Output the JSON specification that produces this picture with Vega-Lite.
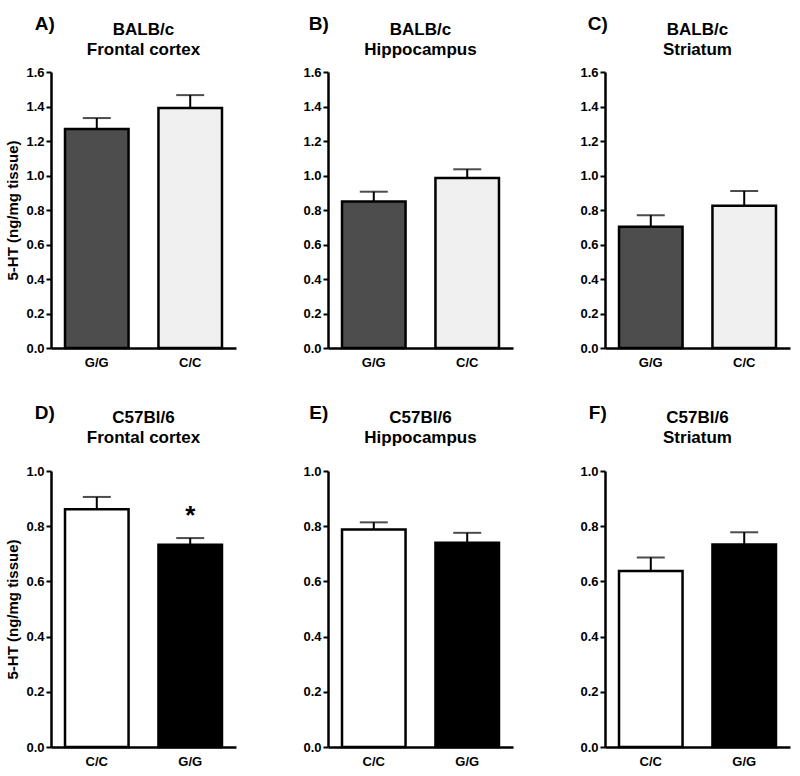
{
  "$schema": "https://vega.github.io/schema/vega-lite/v6.json",
  "background": "white",
  "padding": {"left": 5, "top": 15, "right": 4, "bottom": 2},
  "config": {
    "font": "Liberation Sans",
    "view": {"stroke": null},
    "axis": {
      "domainColor": "black", "domainWidth": 2.5,
      "tickColor": "black", "tickWidth": 2, "tickSize": 5,
      "labelFont": "Liberation Sans", "labelFontWeight": "bold", "labelFontSize": 13, "labelColor": "black", "labelOverlap": false, "labelPadding": 2,
      "titleFont": "Liberation Sans", "titleFontWeight": "bold", "titleFontSize": 15, "titleColor": "black",
      "grid": false
    },
    "axisX": {"ticks": false, "labelAngle": 0, "labelPadding": 8},
    "title": {"font": "Liberation Sans", "fontSize": 17, "fontWeight": "bold", "color": "black", "lineHeight": 20, "anchor": "middle", "frame": "group"},
    "text": {"font": "Liberation Sans", "fontWeight": "bold", "color": "black"}
  },
  "datasets": {
    "bars": [
      {"panel": "A", "geno": "G/G", "mean": 1.27, "upper": 1.333, "kind": "hatched"},
      {"panel": "A", "geno": "C/C", "mean": 1.392, "upper": 1.466, "kind": "dotted"},
      {"panel": "B", "geno": "G/G", "mean": 0.849, "upper": 0.906, "kind": "hatched"},
      {"panel": "B", "geno": "C/C", "mean": 0.986, "upper": 1.036, "kind": "dotted"},
      {"panel": "C", "geno": "G/G", "mean": 0.703, "upper": 0.77, "kind": "hatched"},
      {"panel": "C", "geno": "C/C", "mean": 0.825, "upper": 0.91, "kind": "dotted"},
      {"panel": "D", "geno": "C/C", "mean": 0.861, "upper": 0.906, "kind": "white"},
      {"panel": "D", "geno": "G/G", "mean": 0.733, "upper": 0.757, "kind": "black", "sig": "*"},
      {"panel": "E", "geno": "C/C", "mean": 0.788, "upper": 0.814, "kind": "white"},
      {"panel": "E", "geno": "G/G", "mean": 0.74, "upper": 0.776, "kind": "black"},
      {"panel": "F", "geno": "C/C", "mean": 0.638, "upper": 0.687, "kind": "white"},
      {"panel": "F", "geno": "G/G", "mean": 0.734, "upper": 0.778, "kind": "black"}
    ],
    "letters": [
      {"panel": "A", "letter": "A)"},
      {"panel": "B", "letter": "B)"},
      {"panel": "C", "letter": "C)"},
      {"panel": "D", "letter": "D)"},
      {"panel": "E", "letter": "E)"},
      {"panel": "F", "letter": "F)"}
    ]
  },
  "spacing": 35,
  "vconcat": [
    {
      "spacing": 66,
      "hconcat": [
        {
          "width": 185, "height": 276,
          "title": {"text": ["BALB/c", "Frontal cortex"], "offset": -44},
          "encoding": {
            "x": {"field": "geno", "type": "nominal", "sort": ["G/G", "C/C"], "title": null, "scale": {"paddingInner": 0.32, "paddingOuter": 0.15}}
          },
          "layer": [
            {"data": {"name": "bars"}, "transform": [{"filter": "datum.panel === 'A'"}],
             "mark": {"type": "bar", "stroke": "black", "strokeWidth": 2.5},
             "encoding": {
               "y": {"field": "mean", "type": "quantitative", "scale": {"domain": [0, 1.6]}, "axis": {"values": [0, 0.2, 0.4, 0.6, 0.8, 1.0, 1.2, 1.4, 1.6], "tickCount": 9, "labelOverlap": false, "format": ".1f", "title": "5-HT (ng/mg tissue)", "titlePadding": 5}},
               "fill": {"field": "kind", "type": "nominal", "scale": {"domain": ["hatched", "dotted", "white", "black"], "range": ["#4d4d4d", "#f0f0f0", "#ffffff", "#000000"]}, "legend": null}
             }},
            {"data": {"name": "bars"}, "transform": [{"filter": "datum.panel === 'A'"}],
             "mark": {"type": "rule", "strokeWidth": 2, "color": "black"},
             "encoding": {"y": {"field": "mean", "type": "quantitative", "axis": {"values": [0, 0.2, 0.4, 0.6, 0.8, 1.0, 1.2, 1.4, 1.6], "tickCount": 9, "labelOverlap": false, "format": ".1f", "title": "5-HT (ng/mg tissue)", "titlePadding": 5}}, "y2": {"field": "upper"}}},
            {"data": {"name": "bars"}, "transform": [{"filter": "datum.panel === 'A'"}],
             "mark": {"type": "tick", "thickness": 2, "size": 28, "color": "black"},
             "encoding": {"y": {"field": "upper", "type": "quantitative", "axis": {"values": [0, 0.2, 0.4, 0.6, 0.8, 1.0, 1.2, 1.4, 1.6], "tickCount": 9, "labelOverlap": false, "format": ".1f", "title": "5-HT (ng/mg tissue)", "titlePadding": 5}}}},
            {"data": {"name": "letters"}, "transform": [{"filter": "datum.panel === 'A'"}],
             "mark": {"type": "text", "fontSize": 19, "align": "center", "baseline": "middle", "dx": -52},
             "encoding": {"x": {"datum": "G/G"}, "y": {"datum": 1.878, "axis": {"values": [0, 0.2, 0.4, 0.6, 0.8, 1.0, 1.2, 1.4, 1.6], "tickCount": 9, "labelOverlap": false, "format": ".1f", "title": "5-HT (ng/mg tissue)", "titlePadding": 5}}, "text": {"field": "letter"}}}
          ]
        },
        {
          "width": 185, "height": 276,
          "title": {"text": ["BALB/c", "Hippocampus"], "offset": -44},
          "encoding": {
            "x": {"field": "geno", "type": "nominal", "sort": ["G/G", "C/C"], "title": null, "scale": {"paddingInner": 0.32, "paddingOuter": 0.15}}
          },
          "layer": [
            {"data": {"name": "bars"}, "transform": [{"filter": "datum.panel === 'B'"}],
             "mark": {"type": "bar", "stroke": "black", "strokeWidth": 2.5},
             "encoding": {
               "y": {"field": "mean", "type": "quantitative", "scale": {"domain": [0, 1.6]}, "axis": {"values": [0, 0.2, 0.4, 0.6, 0.8, 1.0, 1.2, 1.4, 1.6], "tickCount": 9, "labelOverlap": false, "format": ".1f", "title": null}},
               "fill": {"field": "kind", "type": "nominal", "scale": {"domain": ["hatched", "dotted", "white", "black"], "range": ["#4d4d4d", "#f0f0f0", "#ffffff", "#000000"]}, "legend": null}
             }},
            {"data": {"name": "bars"}, "transform": [{"filter": "datum.panel === 'B'"}],
             "mark": {"type": "rule", "strokeWidth": 2, "color": "black"},
             "encoding": {"y": {"field": "mean", "type": "quantitative", "axis": {"values": [0, 0.2, 0.4, 0.6, 0.8, 1.0, 1.2, 1.4, 1.6], "tickCount": 9, "labelOverlap": false, "format": ".1f", "title": null}}, "y2": {"field": "upper"}}},
            {"data": {"name": "bars"}, "transform": [{"filter": "datum.panel === 'B'"}],
             "mark": {"type": "tick", "thickness": 2, "size": 28, "color": "black"},
             "encoding": {"y": {"field": "upper", "type": "quantitative", "axis": {"values": [0, 0.2, 0.4, 0.6, 0.8, 1.0, 1.2, 1.4, 1.6], "tickCount": 9, "labelOverlap": false, "format": ".1f", "title": null}}}},
            {"data": {"name": "letters"}, "transform": [{"filter": "datum.panel === 'B'"}],
             "mark": {"type": "text", "fontSize": 19, "align": "center", "baseline": "middle", "dx": -55},
             "encoding": {"x": {"datum": "G/G"}, "y": {"datum": 1.878, "axis": {"values": [0, 0.2, 0.4, 0.6, 0.8, 1.0, 1.2, 1.4, 1.6], "tickCount": 9, "labelOverlap": false, "format": ".1f", "title": null}}, "text": {"field": "letter"}}}
          ]
        },
        {
          "width": 185, "height": 276,
          "title": {"text": ["BALB/c", "Striatum"], "offset": -44},
          "encoding": {
            "x": {"field": "geno", "type": "nominal", "sort": ["G/G", "C/C"], "title": null, "scale": {"paddingInner": 0.32, "paddingOuter": 0.15}}
          },
          "layer": [
            {"data": {"name": "bars"}, "transform": [{"filter": "datum.panel === 'C'"}],
             "mark": {"type": "bar", "stroke": "black", "strokeWidth": 2.5},
             "encoding": {
               "y": {"field": "mean", "type": "quantitative", "scale": {"domain": [0, 1.6]}, "axis": {"values": [0, 0.2, 0.4, 0.6, 0.8, 1.0, 1.2, 1.4, 1.6], "tickCount": 9, "labelOverlap": false, "format": ".1f", "title": null}},
               "fill": {"field": "kind", "type": "nominal", "scale": {"domain": ["hatched", "dotted", "white", "black"], "range": ["#4d4d4d", "#f0f0f0", "#ffffff", "#000000"]}, "legend": null}
             }},
            {"data": {"name": "bars"}, "transform": [{"filter": "datum.panel === 'C'"}],
             "mark": {"type": "rule", "strokeWidth": 2, "color": "black"},
             "encoding": {"y": {"field": "mean", "type": "quantitative", "axis": {"values": [0, 0.2, 0.4, 0.6, 0.8, 1.0, 1.2, 1.4, 1.6], "tickCount": 9, "labelOverlap": false, "format": ".1f", "title": null}}, "y2": {"field": "upper"}}},
            {"data": {"name": "bars"}, "transform": [{"filter": "datum.panel === 'C'"}],
             "mark": {"type": "tick", "thickness": 2, "size": 28, "color": "black"},
             "encoding": {"y": {"field": "upper", "type": "quantitative", "axis": {"values": [0, 0.2, 0.4, 0.6, 0.8, 1.0, 1.2, 1.4, 1.6], "tickCount": 9, "labelOverlap": false, "format": ".1f", "title": null}}}},
            {"data": {"name": "letters"}, "transform": [{"filter": "datum.panel === 'C'"}],
             "mark": {"type": "text", "fontSize": 19, "align": "center", "baseline": "middle", "dx": -53},
             "encoding": {"x": {"datum": "G/G"}, "y": {"datum": 1.878, "axis": {"values": [0, 0.2, 0.4, 0.6, 0.8, 1.0, 1.2, 1.4, 1.6], "tickCount": 9, "labelOverlap": false, "format": ".1f", "title": null}}, "text": {"field": "letter"}}}
          ]
        }
      ]
    },
    {
      "spacing": 66,
      "hconcat": [
        {
          "width": 185, "height": 276,
          "title": {"text": ["C57Bl/6", "Frontal cortex"], "offset": -43},
          "encoding": {
            "x": {"field": "geno", "type": "nominal", "sort": ["C/C", "G/G"], "title": null, "scale": {"paddingInner": 0.32, "paddingOuter": 0.15}}
          },
          "layer": [
            {"data": {"name": "bars"}, "transform": [{"filter": "datum.panel === 'D'"}],
             "mark": {"type": "bar", "stroke": "black", "strokeWidth": 2.5},
             "encoding": {
               "y": {"field": "mean", "type": "quantitative", "scale": {"domain": [0, 1.0]}, "axis": {"values": [0, 0.2, 0.4, 0.6, 0.8, 1.0], "format": ".1f", "title": "5-HT (ng/mg tissue)", "titlePadding": 5}},
               "fill": {"field": "kind", "type": "nominal", "scale": {"domain": ["hatched", "dotted", "white", "black"], "range": ["#4d4d4d", "#f0f0f0", "#ffffff", "#000000"]}, "legend": null}
             }},
            {"data": {"name": "bars"}, "transform": [{"filter": "datum.panel === 'D'"}],
             "mark": {"type": "rule", "strokeWidth": 2, "color": "black"},
             "encoding": {"y": {"field": "mean", "type": "quantitative"}, "y2": {"field": "upper"}}},
            {"data": {"name": "bars"}, "transform": [{"filter": "datum.panel === 'D'"}],
             "mark": {"type": "tick", "thickness": 2, "size": 28, "color": "black"},
             "encoding": {"y": {"field": "upper", "type": "quantitative"}}},
            {"data": {"name": "bars"}, "transform": [{"filter": "datum.panel === 'D' && datum.sig"}],
             "mark": {"type": "text", "fontSize": 26, "align": "center", "baseline": "middle", "dy": -22},
             "encoding": {"y": {"field": "upper", "type": "quantitative"}, "text": {"field": "sig"}}},
            {"data": {"name": "letters"}, "transform": [{"filter": "datum.panel === 'D'"}],
             "mark": {"type": "text", "fontSize": 19, "align": "center", "baseline": "middle", "dx": -52},
             "encoding": {"x": {"datum": "C/C"}, "y": {"datum": 1.21}, "text": {"field": "letter"}}}
          ]
        },
        {
          "width": 185, "height": 276,
          "title": {"text": ["C57Bl/6", "Hippocampus"], "offset": -43},
          "encoding": {
            "x": {"field": "geno", "type": "nominal", "sort": ["C/C", "G/G"], "title": null, "scale": {"paddingInner": 0.32, "paddingOuter": 0.15}}
          },
          "layer": [
            {"data": {"name": "bars"}, "transform": [{"filter": "datum.panel === 'E'"}],
             "mark": {"type": "bar", "stroke": "black", "strokeWidth": 2.5},
             "encoding": {
               "y": {"field": "mean", "type": "quantitative", "scale": {"domain": [0, 1.0]}, "axis": {"values": [0, 0.2, 0.4, 0.6, 0.8, 1.0], "format": ".1f", "title": null}},
               "fill": {"field": "kind", "type": "nominal", "scale": {"domain": ["hatched", "dotted", "white", "black"], "range": ["#4d4d4d", "#f0f0f0", "#ffffff", "#000000"]}, "legend": null}
             }},
            {"data": {"name": "bars"}, "transform": [{"filter": "datum.panel === 'E'"}],
             "mark": {"type": "rule", "strokeWidth": 2, "color": "black"},
             "encoding": {"y": {"field": "mean", "type": "quantitative"}, "y2": {"field": "upper"}}},
            {"data": {"name": "bars"}, "transform": [{"filter": "datum.panel === 'E'"}],
             "mark": {"type": "tick", "thickness": 2, "size": 28, "color": "black"},
             "encoding": {"y": {"field": "upper", "type": "quantitative"}}},
            {"data": {"name": "letters"}, "transform": [{"filter": "datum.panel === 'E'"}],
             "mark": {"type": "text", "fontSize": 19, "align": "center", "baseline": "middle", "dx": -55},
             "encoding": {"x": {"datum": "C/C"}, "y": {"datum": 1.21}, "text": {"field": "letter"}}}
          ]
        },
        {
          "width": 185, "height": 276,
          "title": {"text": ["C57Bl/6", "Striatum"], "offset": -43},
          "encoding": {
            "x": {"field": "geno", "type": "nominal", "sort": ["C/C", "G/G"], "title": null, "scale": {"paddingInner": 0.32, "paddingOuter": 0.15}}
          },
          "layer": [
            {"data": {"name": "bars"}, "transform": [{"filter": "datum.panel === 'F'"}],
             "mark": {"type": "bar", "stroke": "black", "strokeWidth": 2.5},
             "encoding": {
               "y": {"field": "mean", "type": "quantitative", "scale": {"domain": [0, 1.0]}, "axis": {"values": [0, 0.2, 0.4, 0.6, 0.8, 1.0], "format": ".1f", "title": null}},
               "fill": {"field": "kind", "type": "nominal", "scale": {"domain": ["hatched", "dotted", "white", "black"], "range": ["#4d4d4d", "#f0f0f0", "#ffffff", "#000000"]}, "legend": null}
             }},
            {"data": {"name": "bars"}, "transform": [{"filter": "datum.panel === 'F'"}],
             "mark": {"type": "rule", "strokeWidth": 2, "color": "black"},
             "encoding": {"y": {"field": "mean", "type": "quantitative"}, "y2": {"field": "upper"}}},
            {"data": {"name": "bars"}, "transform": [{"filter": "datum.panel === 'F'"}],
             "mark": {"type": "tick", "thickness": 2, "size": 28, "color": "black"},
             "encoding": {"y": {"field": "upper", "type": "quantitative"}}},
            {"data": {"name": "letters"}, "transform": [{"filter": "datum.panel === 'F'"}],
             "mark": {"type": "text", "fontSize": 19, "align": "center", "baseline": "middle", "dx": -53},
             "encoding": {"x": {"datum": "C/C"}, "y": {"datum": 1.21}, "text": {"field": "letter"}}}
          ]
        }
      ]
    }
  ]
}
